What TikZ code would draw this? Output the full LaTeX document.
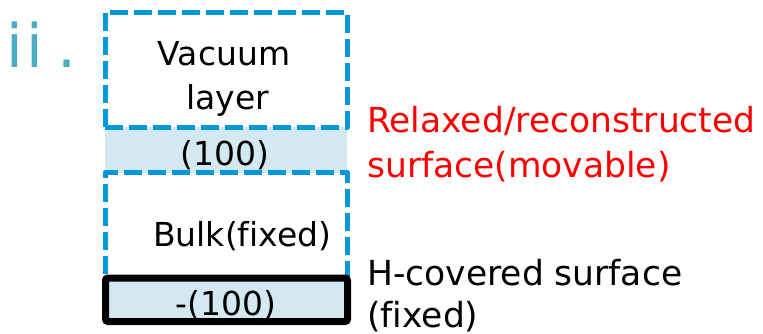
\documentclass[tikz,border=0pt]{standalone}
\usepackage{fontspec}
\setmainfont[Ligatures=NoCommon]{DejaVu Sans}
\definecolor{dashblue}{RGB}{0,152,219}
\definecolor{bandfill}{RGB}{211,232,240}
\definecolor{numteal}{RGB}{75,172,198}
\begin{document}
\begin{tikzpicture}[x=1pt,y=-1pt,
  dashbox/.style={draw=dashblue, line width=5pt, dash pattern=on 18pt off 6pt,
    line join=round, inner sep=0pt, outer sep=0pt, minimum width=242pt},
  bandbox/.style={fill=bandfill, inner sep=0pt, outer sep=0pt, minimum width=242pt},
  fixbox/.style={draw=black, line width=7pt, fill=bandfill, rounded corners=2.5pt,
    inner sep=0pt, outer sep=0pt, minimum width=242pt},
  boxtext/.style={font=\fontsize{33}{40}\selectfont, inner sep=0pt, anchor=base, text=black},
  sidetext/.style={font=\fontsize{34.5}{40}\selectfont, inner sep=0pt, anchor=base west},
]
\useasboundingbox (0,0) rectangle (763,334);

% layers
\node[bandbox, minimum height=45pt] (band) at (226,150) {};
\node[dashbox, minimum height=115pt] (vacuum) at (226,70) {};
\node[dashbox, minimum height=104.5pt] (bulk) at (226,224.75) {};
\node[fixbox, minimum height=43.5pt] (bottom) at (226.5,299.75) {};

% label
\node[font=\fontsize{60}{60}\selectfont, text=numteal, anchor=base west, inner sep=0pt]
  (num) at (6.65,68) {i\kern3.3pt i\kern13.8pt.};

% texts in boxes
\node[boxtext] (vac1) at (224,66) {Vacuum};
\node[boxtext] (vac2) at (227.5,110) {layer};
\node[boxtext] (t100) at (225,165) {(100)};
\node[boxtext, anchor=base west] (tbulk) at (153,246) {Bulk(fixed)};
\node[boxtext] (tm100) at (226,315) {-(100)};

% side texts
\node[sidetext, text=red] (r1) at (367,133) {Relaxed/reconstructed};
\node[sidetext, text=red] (r2) at (367,177) {surface(movable)};
\node[sidetext, text=black] (h1) at (367,285) {H-covered surface};
\node[sidetext, text=black] (h2) at (367,327) {(fixed)};
\end{tikzpicture}
\end{document}
